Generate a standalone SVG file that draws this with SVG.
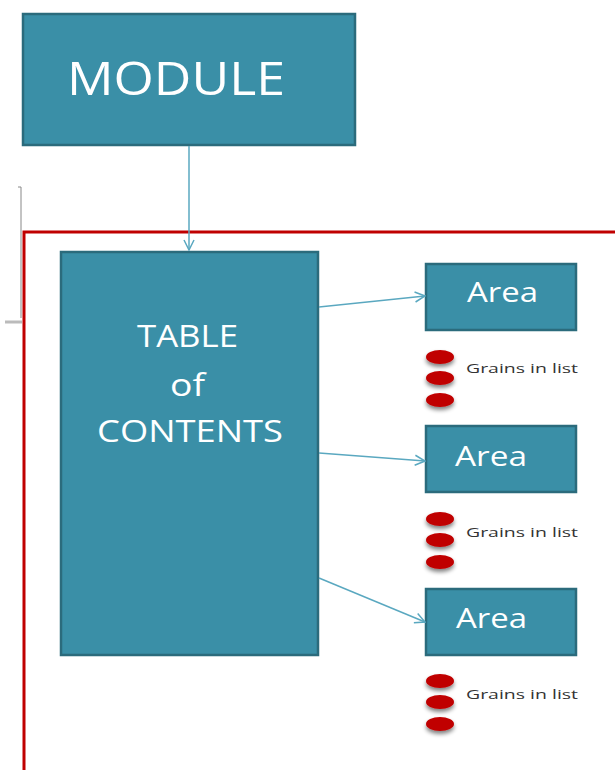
<svg xmlns="http://www.w3.org/2000/svg" width="615" height="770" viewBox="0 0 615 770">
<defs>
<style>
.box{fill:#3a8fa7;stroke:#2b6b7c;stroke-width:2.5}
.lbl{font-family:"Open Sans","Liberation Sans",sans-serif;fill:#ffffff;text-anchor:middle}
.conn{stroke:#5aa8c0;stroke-width:1.5;fill:none}
.dot{fill:#c00000}
.grain{font-family:"Open Sans","Liberation Sans",sans-serif;font-size:13px;fill:#333333}
</style>
<marker id="arr" viewBox="0 0 12 12" refX="11" refY="6" markerWidth="12" markerHeight="12" markerUnits="userSpaceOnUse" orient="auto">
<path d="M1,1 L11,6 L1,11" fill="none" stroke="#5aa8c0" stroke-width="1.5"/>
</marker>
<filter id="sh" x="-50%" y="-50%" width="200%" height="250%">
<feGaussianBlur in="SourceAlpha" stdDeviation="2"/>
<feOffset dy="3" result="b"/>
<feComponentTransfer><feFuncA type="linear" slope="0.5"/></feComponentTransfer>
<feMerge><feMergeNode/><feMergeNode in="SourceGraphic"/></feMerge>
</filter>
</defs>
<rect width="615" height="770" fill="#ffffff"/>
<g id="bracket" stroke="#888888" fill="none">
<path d="M18,187 L21,187 L21,318" stroke-width="1"/>
<path d="M5,322 L22,322" stroke="#bbbbbb" stroke-width="3"/>
</g>
<g id="frame">
<path d="M24,770 L24,232 L615,232" fill="none" stroke="#c00000" stroke-width="3"/>
</g>
<g id="module">
<rect class="box" x="23" y="14" width="332" height="131"/>
<text class="lbl" x="176" y="95" font-size="46" textLength="218" lengthAdjust="spacingAndGlyphs">MODULE</text>
</g>
<g id="toc">
<rect class="box" x="61" y="252" width="257" height="403"/>
<text class="lbl" x="187.5" y="347" font-size="31" textLength="101" lengthAdjust="spacingAndGlyphs">TABLE</text>
<text class="lbl" x="187.5" y="396" font-size="31" textLength="35" lengthAdjust="spacingAndGlyphs">of</text>
<text class="lbl" x="190" y="442" font-size="31" textLength="186" lengthAdjust="spacingAndGlyphs">CONTENTS</text>
</g>
<g id="area1">
<rect class="box" x="426" y="264" width="150" height="66"/>
<text class="lbl" x="502.5" y="302" font-size="28" textLength="71" lengthAdjust="spacingAndGlyphs">Area</text>
</g>
<g id="area2">
<rect class="box" x="426" y="426" width="150" height="66"/>
<text class="lbl" x="491" y="466" font-size="28" textLength="72" lengthAdjust="spacingAndGlyphs">Area</text>
</g>
<g id="area3">
<rect class="box" x="426" y="589" width="150" height="66"/>
<text class="lbl" x="491.5" y="628" font-size="28" textLength="71" lengthAdjust="spacingAndGlyphs">Area</text>
</g>
<g id="grains1">
<g filter="url(#sh)">
<ellipse class="dot" cx="440" cy="357" rx="14" ry="7"/>
<ellipse class="dot" cx="440" cy="378" rx="14" ry="7"/>
<ellipse class="dot" cx="440" cy="400" rx="14" ry="7"/>
</g>
<text class="grain" x="466" y="373" textLength="112" lengthAdjust="spacingAndGlyphs">Grains in list</text>
</g>
<g id="grains2">
<g filter="url(#sh)">
<ellipse class="dot" cx="440" cy="519" rx="14" ry="7"/>
<ellipse class="dot" cx="440" cy="540" rx="14" ry="7"/>
<ellipse class="dot" cx="440" cy="562" rx="14" ry="7"/>
</g>
<text class="grain" x="466" y="537" textLength="112" lengthAdjust="spacingAndGlyphs">Grains in list</text>
</g>
<g id="grains3">
<g filter="url(#sh)">
<ellipse class="dot" cx="440" cy="681" rx="14" ry="7"/>
<ellipse class="dot" cx="440" cy="702" rx="14" ry="7"/>
<ellipse class="dot" cx="440" cy="724" rx="14" ry="7"/>
</g>
<text class="grain" x="466" y="699" textLength="112" lengthAdjust="spacingAndGlyphs">Grains in list</text>
</g>
<g id="connectors">
<line class="conn" x1="189" y1="146" x2="189" y2="250" marker-end="url(#arr)"/>
<line class="conn" x1="319" y1="307" x2="425" y2="296" marker-end="url(#arr)"/>
<line class="conn" x1="319" y1="453" x2="425" y2="461" marker-end="url(#arr)"/>
<line class="conn" x1="319" y1="578" x2="425" y2="622" marker-end="url(#arr)"/>
</g>
</svg>
